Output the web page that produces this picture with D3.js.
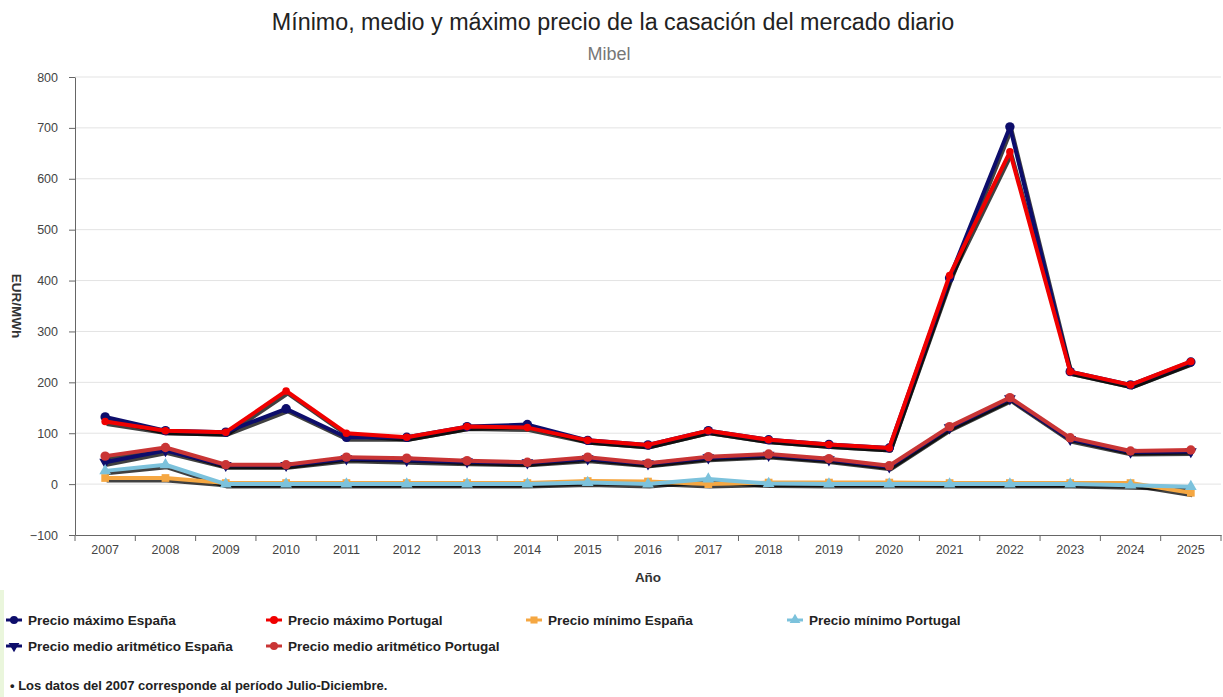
<!DOCTYPE html>
<html><head><meta charset="utf-8">
<script src="https://cdn.jsdelivr.net/npm/d3@7"></script>
<style>body{margin:0;background:#fff;font-family:"Liberation Sans",Arial,sans-serif;}</style>
</head><body><svg id="c" width="1223" height="697"></svg>
<script>
const years = ["2007","2008","2009","2010","2011","2012","2013","2014","2015","2016","2017","2018","2019","2020","2021","2022","2023","2024","2025"];
const maxEspana   = [132,105,102,148,92,92,113,117,86,77,105,87,78,71,405,702,221,195,240];
const maxPortugal = [123,105,102,183,100,92,113,111,86,77,105,87,78,71,410,653,221,195,241];
const minEspana   = [12,12,2,2,2,2,2,2,6,5,0,3,3,3,2,2,2,2,-17];
const minPortugal = [26,38,0,0,0,0,0,0,3,0,10,1,0,0,0,0,0,-2,-5];
const medioEspana = [43,66,37,37,50,47,44,42,50,40,52,57,48,34,111,168,88,63,64];
const medioPortugal=[55,72,38,38,53,51,46,43,53,41,54,59,50,36,113,170,91,65,67];
const yTicks = [-100,0,100,200,300,400,500,600,700,800];
const seriesNames = ["Precio máximo España","Precio máximo Portugal","Precio mínimo España","Precio mínimo Portugal","Precio medio aritmético España","Precio medio aritmético Portugal"];

const series = [
  {name:seriesNames[4], vals:medioEspana, color:"#0d0d6b", sym:d3.symbolTriangle, rot:180, size:60},
  {name:seriesNames[5], vals:medioPortugal, color:"#c93535", sym:d3.symbolCircle, rot:0, size:70},
  {name:seriesNames[2], vals:minEspana, color:"#f5a742", sym:d3.symbolSquare, rot:0, size:60},
  {name:seriesNames[3], vals:minPortugal, color:"#7cc2dc", sym:d3.symbolTriangle, rot:0, size:60},
  {name:seriesNames[0], vals:maxEspana, color:"#0d0d6b", sym:d3.symbolCircle, rot:0, size:70},
  {name:seriesNames[1], vals:maxPortugal, color:"#f00000", sym:d3.symbolCircle, rot:0, size:45},
];

const svg = d3.select("#c");
const pL=75, pR=1221, pT=77, pB=535;
const x = d3.scaleBand().domain(years).range([pL,pR]);
const y = d3.scaleLinear().domain([-100,800]).range([pB,pT]);

// left green strip
svg.append("rect").attr("x",0).attr("y",590).attr("width",4).attr("height",107).attr("fill","#eaf6dc");

// title
svg.append("text").attr("x",613).attr("y",30).attr("text-anchor","middle").attr("font-size",23.3).attr("fill","#222")
  .text("Mínimo, medio y máximo precio de la casación del mercado diario");
svg.append("text").attr("x",609).attr("y",60).attr("text-anchor","middle").attr("font-size",18).attr("fill","#777")
  .text("Mibel");

// grid
svg.append("g").selectAll("line").data(yTicks.filter(t=>t!==-100)).join("line")
  .attr("x1",pL).attr("x2",pR).attr("y1",d=>y(d)).attr("y2",d=>y(d)).attr("stroke","#e3e3e3").attr("stroke-width",1);

// y axis
const ya = svg.append("g").attr("transform",`translate(${pL},0)`).call(d3.axisLeft(y).tickValues(yTicks).tickSize(6).tickSizeOuter(0));
ya.select(".domain").attr("stroke","#666");
ya.selectAll(".tick line").attr("stroke","#666");
ya.selectAll("text").attr("font-size",12.5).attr("fill","#444").attr("x",-17).attr("font-family","'Liberation Sans', Arial");

// x axis
const xa = svg.append("g").attr("transform",`translate(0,${pB})`).call(d3.axisBottom(x).tickSize(0).tickSizeOuter(0));
xa.select(".domain").attr("stroke","#666");
xa.selectAll("text").attr("font-size",12.5).attr("fill","#444").attr("dy","1.25em").attr("font-family","'Liberation Sans', Arial");
svg.append("g").selectAll("line").data(years.concat(["end"])).join("line")
  .attr("x1",(d,i)=>pL+i*x.step()).attr("x2",(d,i)=>pL+i*x.step())
  .attr("y1",pB).attr("y2",pB+6).attr("stroke","#666");

// axis titles
svg.append("text").attr("transform","translate(12,306) rotate(90)").attr("text-anchor","middle")
  .attr("font-size",13.5).attr("font-weight","bold").attr("fill","#333").text("EUR/MWh");
svg.append("text").attr("x",648).attr("y",582).attr("text-anchor","middle")
  .attr("font-size",13.5).attr("font-weight","bold").attr("fill","#333").text("Año");

const line = d3.line().x((d,i)=>x(years[i])+x.bandwidth()/2).y(d=>y(d));
const plot = svg.append("g");
// shadows
series.forEach(s=>{
  plot.append("path").attr("d",line(s.vals)).attr("fill","none").attr("stroke","#000").attr("stroke-opacity",0.75)
    .attr("stroke-width",4).attr("transform","translate(1.5,2.5)").attr("stroke-linejoin","round");
});
series.forEach(s=>{
  const g = plot.append("g");
  g.append("path").attr("d",line(s.vals)).attr("fill","none").attr("stroke",s.color).attr("stroke-width",4).attr("stroke-linejoin","round");
  g.selectAll("path.m").data(s.vals).join("path").attr("class","m")
    .attr("d",d3.symbol().type(s.sym).size(s.size))
    .attr("transform",(d,i)=>`translate(${x(years[i])+x.bandwidth()/2},${y(d)}) rotate(${s.rot})`)
    .attr("fill",s.color);
});

// legend
const legendItems = [
  {s:series[4], lx:6, ly:620},{s:series[5], lx:266, ly:620},{s:series[2], lx:526, ly:620},{s:series[3], lx:787, ly:620},
  {s:series[0], lx:6, ly:646},{s:series[1], lx:266, ly:646}
];
legendItems.forEach(it=>{
  const g = svg.append("g").attr("transform",`translate(${it.lx},${it.ly})`);
  g.append("line").attr("x1",0).attr("x2",16).attr("y1",0).attr("y2",0).attr("stroke",it.s.color).attr("stroke-width",3);
  g.append("path").attr("d",d3.symbol().type(it.s.sym).size(50)).attr("transform",`translate(8,0) rotate(${it.s.rot})`).attr("fill",it.s.color);
  g.append("text").attr("x",22).attr("y",4.8).attr("font-size",13.5).attr("font-weight","bold").attr("fill","#222").text(it.s.name);
});

svg.append("text").attr("x",10).attr("y",690).attr("font-size",13).attr("font-weight","bold").attr("fill","#222")
  .text("• Los datos del 2007 corresponde al período Julio-Diciembre.");
</script></body></html>
